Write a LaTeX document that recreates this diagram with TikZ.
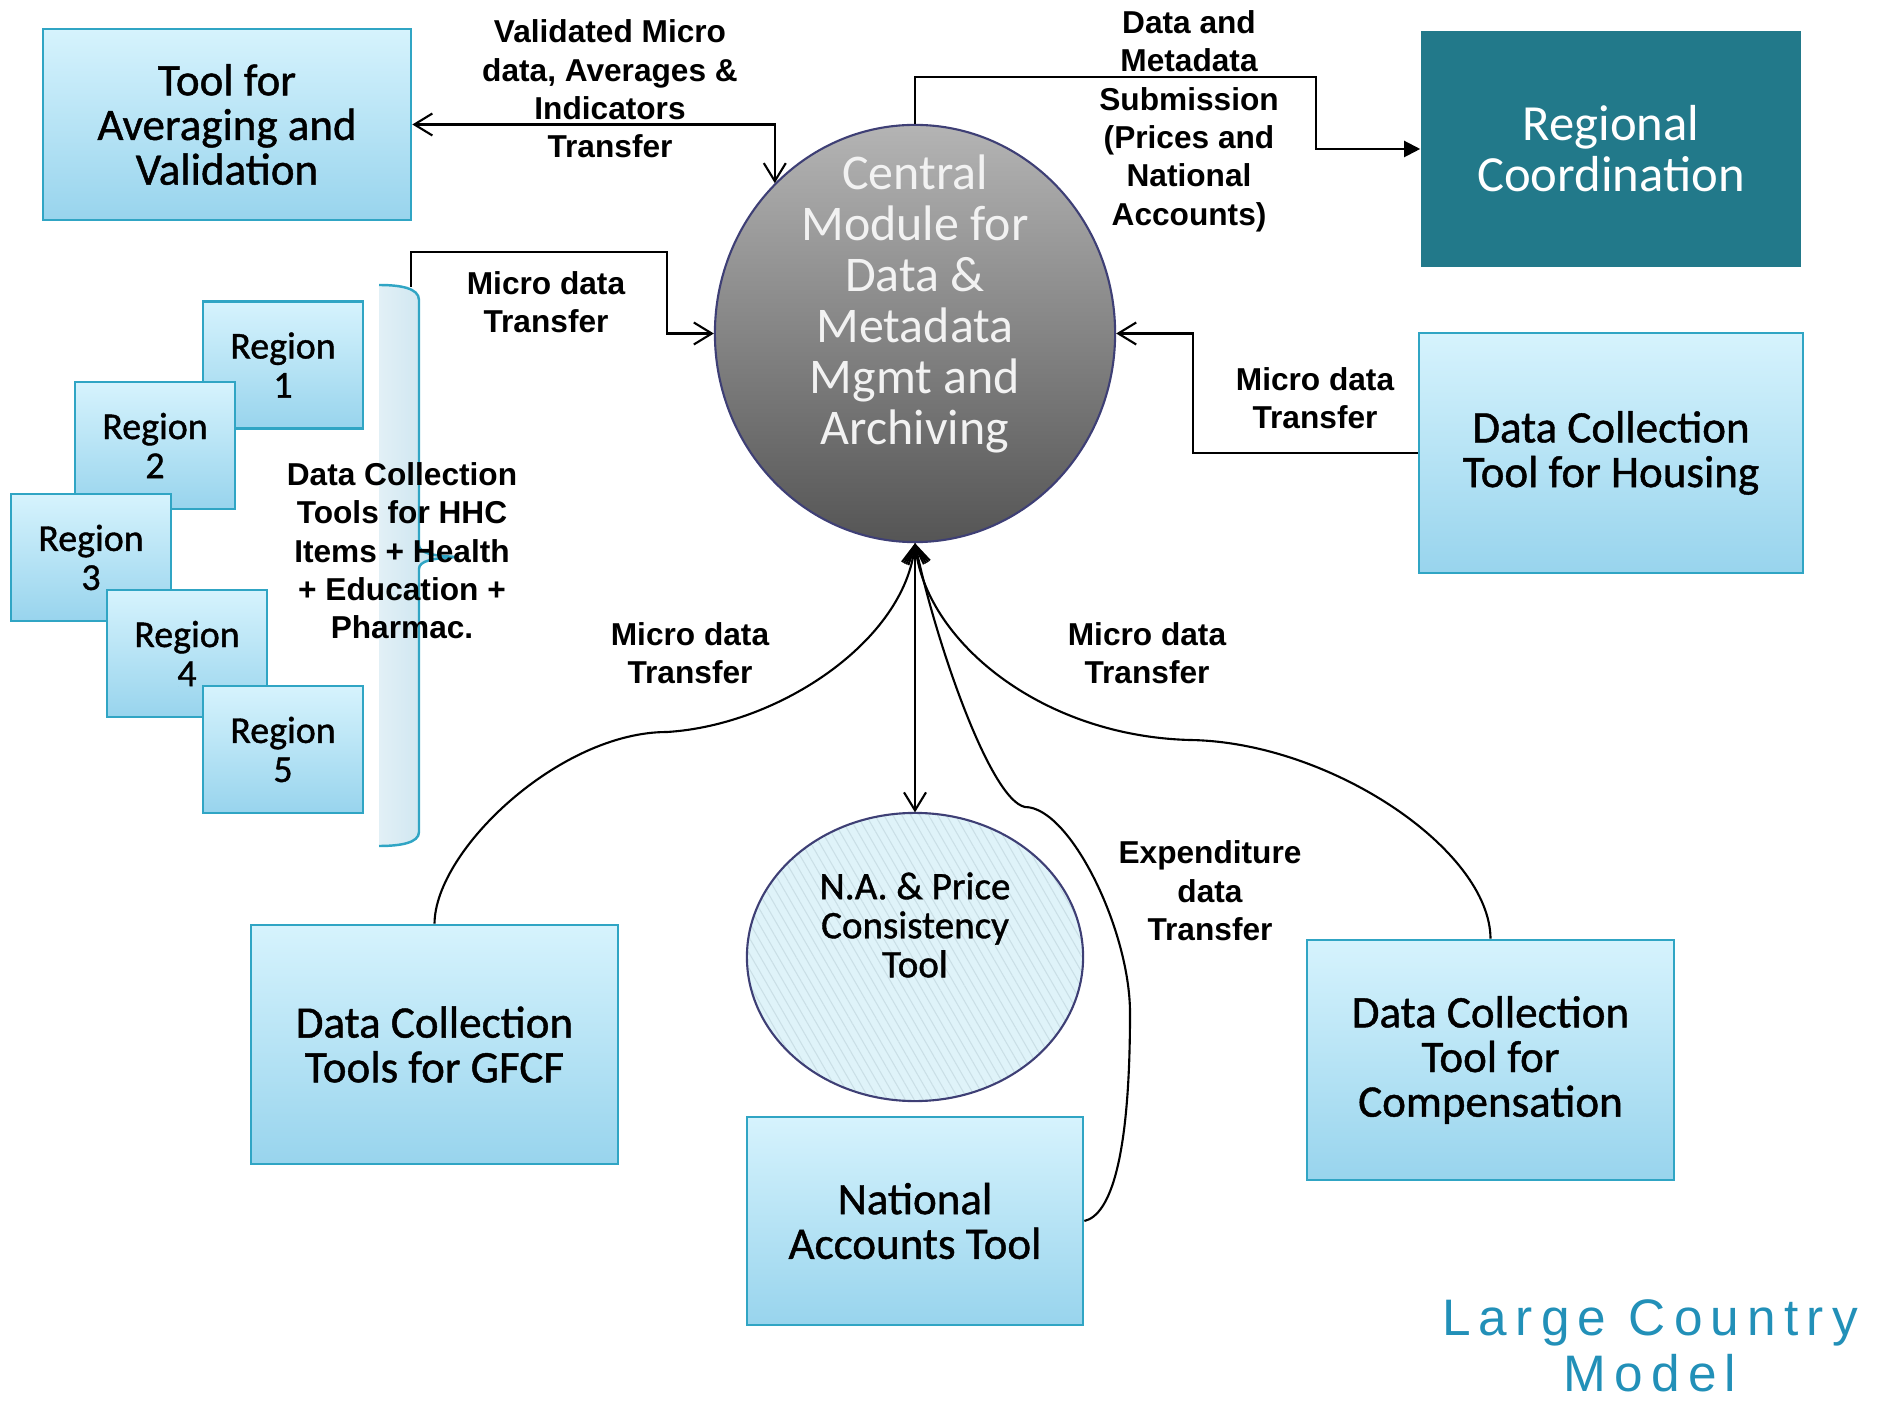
\documentclass[tikz,border=0pt]{standalone}
\usepackage{fontspec}
\setmainfont{Carlito}
\newfontfamily\boxfont{Carlito}[FakeBold=1]
\newfontfamily\lblfont{Liberation Sans}
\newfontfamily\capfont{Liberation Sans}[LetterSpace=16]
\usetikzlibrary{shapes.geometric,arrows.meta,patterns.meta}
\definecolor{boxtop}{HTML}{D6F3FD}
\definecolor{boxbot}{HTML}{98D4ED}
\definecolor{boxline}{HTML}{30A5C4}
\definecolor{rcteal}{HTML}{22798A}
\definecolor{hubtop}{HTML}{B4B4B4}
\definecolor{hubbot}{HTML}{555555}
\definecolor{hubline}{HTML}{3E3F75}
\definecolor{pcfill}{HTML}{DFF3F9}
\definecolor{pchatch}{HTML}{CADFE6}
\definecolor{brleft}{HTML}{E2F0F6}
\definecolor{brright}{HTML}{BFDFEC}
\definecolor{capblue}{HTML}{2290B8}
\begin{document}
\begin{tikzpicture}[x=0.01cm,y=-0.01cm,
  tool/.style={draw=boxline,line width=0.7pt,top color=boxtop,bottom color=boxbot,align=center,font=\boxfont\fontsize{12.8}{12.7}\selectfont},
  region/.style={tool,minimum width=1.6cm,minimum height=1.27cm,font=\boxfont\fontsize{10.8}{11.1}\selectfont},
  lbl/.style={align=center,font=\lblfont\bfseries\fontsize{9}{10.9}\selectfont},
  hubtxt/.style={align=center,text=white!95!black,yshift=0.295cm,font=\fontsize{14.2}{14.5}\selectfont},
  pctxt/.style={align=center,yshift=0.32cm,font=\boxfont\fontsize{11.1}{11.1}\selectfont},
  >={Straight Barb[length=1.8mm,width=2.2mm]}]
\useasboundingbox (0,0) rectangle (1883,1404);

\node[tool,minimum width=3.68cm,minimum height=1.91cm] (AV) at (227,124.5) {Tool for\\Averaging and\\Validation};
\node[fill=rcteal,minimum width=3.8cm,minimum height=2.36cm,align=center,text=white,font=\fontsize{14.4}{14.5}\selectfont] (RC) at (1611,149) {Regional\\Coordination};
\node[ellipse,draw=hubline,line width=0.6pt,top color=hubtop,bottom color=hubbot,minimum width=4cm,minimum height=4.17cm,inner sep=0pt,
  label={[hubtxt]center:{Central\\Module for\\Data \&\\Metadata\\Mgmt and\\Archiving}}] (CM) at (915,333.5) {};
\node[tool,minimum width=3.84cm,minimum height=2.4cm] (HS) at (1611,453) {Data Collection\\Tool for Housing};
\node[tool,minimum width=3.67cm,minimum height=2.39cm] (GF) at (434.5,1044.5) {Data Collection\\Tools for GFCF};
\node[tool,minimum width=3.67cm,minimum height=2.4cm] (CP) at (1490.5,1060) {Data Collection\\Tool for\\Compensation};
\node[tool,minimum width=3.36cm,minimum height=2.08cm] (NA) at (915,1221) {National\\Accounts Tool};
\node[ellipse,draw=hubline,line width=0.6pt,preaction={fill=pcfill},pattern={Lines[angle=120,distance=2.2pt,line width=0.3pt]},pattern color=pchatch,
  minimum width=3.36cm,minimum height=2.88cm,inner sep=0pt,
  label={[pctxt]center:{N.A. \& Price\\Consistency\\Tool}}] (PC) at (915,957) {};

\foreach \n/\x/\y in {1/283/365,2/155/445.5,3/91/557.5,4/187/653.5,5/283/749.5}
  \node[region] (R\n) at (\x,\y) {Region\\\n};

\fill[left color=brleft,right color=brright] (379,285) .. controls (400,285) and (419,288) .. (419,300) -- (419,545)
  .. controls (419,553) and (432,556) .. (459,557) .. controls (432,558) and (419,561) .. (419,569) -- (419,832)
  .. controls (419,843) and (400,846) .. (379,846) -- cycle;
\draw[boxline,line width=0.7pt] (379,285) .. controls (400,285) and (419,288) .. (419,300) -- (419,545)
  .. controls (419,553) and (432,556) .. (459,557) .. controls (432,558) and (419,561) .. (419,569) -- (419,832)
  .. controls (419,843) and (400,846) .. (379,846);

\node[lbl] (tHHC) at (402,551) {Data Collection\\Tools for HHC\\Items + Health\\+ Education +\\Pharmac.};
\node[lbl] (tAV) at (610,89) {Validated Micro\\data, Averages \&\\Indicators\\Transfer};
\node[lbl] (tRC) at (1189,121) {Data and\\Metadata\\Submission\\(Prices and\\National\\Accounts)};
\node[lbl] (tUL) at (546,302) {Micro data\\Transfer};
\node[lbl] (tHS) at (1315,398) {Micro data\\Transfer};
\node[lbl] (tGF) at (690,653) {Micro data\\Transfer};
\node[lbl] (tCP) at (1147,653) {Micro data\\Transfer};
\node[lbl] (tNA) at (1210,891) {Expenditure\\data\\Transfer};
\node[text=capblue,align=center,font=\capfont\fontsize{14.6}{16}\selectfont] (LCM) at (1650,1346) {Large Country\\Model};

\coordinate (bendRC) at (1316,77);
\coordinate (brTop) at (411,287);
\coordinate (bendUL) at (667,252);
\coordinate (bendHS) at (1193,333.5);

\draw[<->,line width=0.6pt] (AV.east) -| (CM.133);
\draw[line width=0.6pt,-{Triangle[length=1.6mm,width=1.6mm]}] (CM.north) |- (bendRC) |- (RC.west);
\draw[->,line width=0.6pt] (brTop) |- (bendUL) |- (CM.west);
\draw[->,line width=0.6pt] (HS.west) -| (bendHS) -- (CM.east);
\draw[->,line width=0.6pt] (GF.north) .. controls (435,850) and (560,732) .. (667,732) .. controls (780,725) and (905,640) .. (CM.south);
\draw[->,line width=0.6pt] (CP.north) .. controls (1490,850) and (1330,742) .. (1190,740) .. controls (1040,736) and (925,640) .. (CM.south);
\draw[->,line width=0.6pt] (NA.east) .. controls (1110,1215) and (1130,1160) .. (1130,1013) .. controls (1130,930) and (1070,807) .. (1025,807) .. controls (990,800) and (935,640) .. (CM.south);
\draw[<->,line width=0.6pt] (CM.south) -- (PC.north);
\end{tikzpicture}
\end{document}
